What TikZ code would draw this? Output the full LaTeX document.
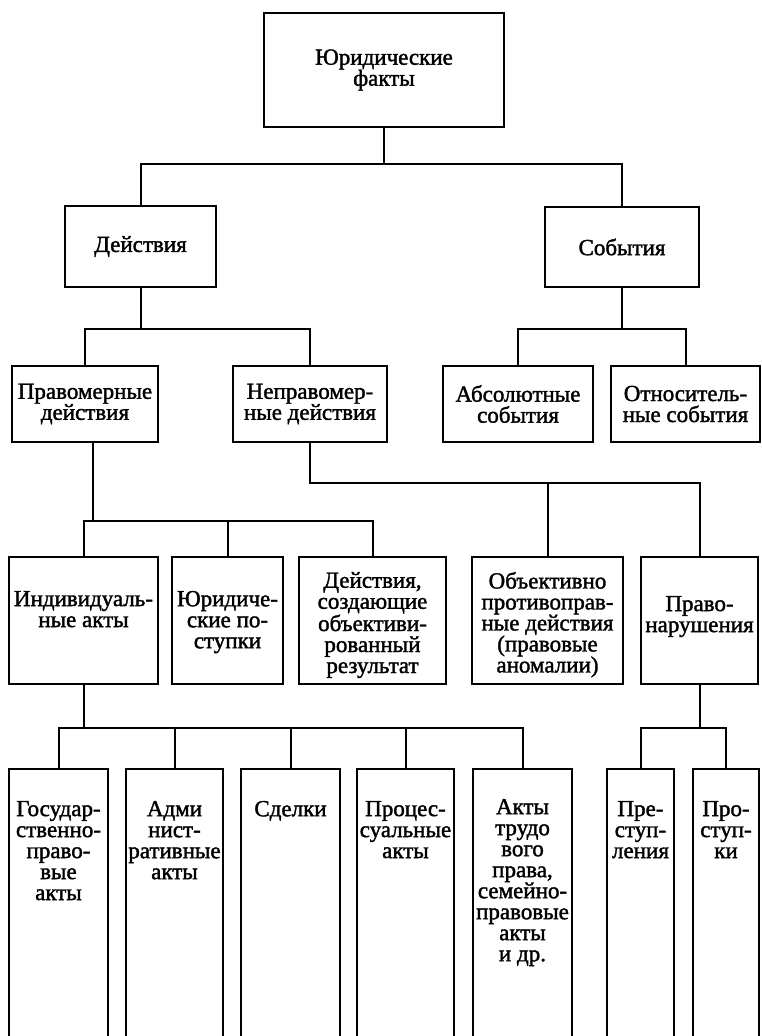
\documentclass[tikz,border=0pt]{standalone}
\usepackage{fontspec}
\setmainfont{Liberation Serif}
\newfontface\heavyserif{Liberation Serif}[FakeBold=1.6]
\usepackage{tikz}
\usetikzlibrary{positioning}

\newcommand{\boxfont}{\heavyserif\fontsize{23}{21}\selectfont}

\begin{document}
\begin{tikzpicture}[
x=1pt, y=-1pt,
box/.style={draw, line width=2.4pt, inner sep=0pt, font=\boxfont, align=center},
txt/.style={inner sep=0pt, font=\boxfont, align=center},
link/.style={line width=2pt} ]

\useasboundingbox (0,0) rectangle (761,1036);

% levels of the horizontal bars
\coordinate (lev1) at (0,164);
\coordinate (lev2) at (0,329);
\coordinate (lev3) at (0,483);
\coordinate (lev4) at (0,521);
\coordinate (lev5) at (0,728);

\node[box, minimum width=240pt, minimum height=114pt] (jurfakt) at (384,70) {Юридические\\факты};

\node[box, minimum width=151pt, minimum height=81pt] (dej) at (140.5,246.5) {Действия};

\node[box, minimum width=154pt, minimum height=80pt] (sob) at (622,247) {События};

\node[box, minimum width=146pt, minimum height=76pt] (prav) at (85,404) {Правомерные\\действия};

\node[box, minimum width=154pt, minimum height=76pt] (neprav) at (310,404) {Неправомер-\\ные действия};

\node[box, minimum width=150pt, minimum height=76pt] (abs) at (518,404) {Абсолютные\\события};

\node[box, minimum width=149pt, minimum height=76pt] (otn) at (685.5,404) {Относитель-\\ные события};

% third row
\node[box, minimum width=149pt, minimum height=127pt] (indiv) at (83.5,620.5) {};
\node[txt, below=35pt of indiv.north] (indiv-t) {Индивидуаль-\\ные акты};

\node[box, minimum width=111pt, minimum height=127pt] (jurpost) at (227.5,620.5) {};
\node[txt, below=35pt of jurpost.north] (jurpost-t) {Юридиче-\\ские по-\\ступки};

\node[box, minimum width=147pt, minimum height=127pt] (dejrez) at (372.5,620.5) {};
\node[txt, below=16pt of dejrez.north] (dejrez-t) {Действия,\\создающие\\объективи-\\рованный\\результат};

\node[box, minimum width=151pt, minimum height=127pt] (objekt) at (547.5,620.5) {};
\node[txt, below=16pt of objekt.north] (objekt-t) {Объективно\\противоправ-\\ные действия\\(правовые\\аномалии)};

\node[box, minimum width=117pt, minimum height=127pt] (pravonar) at (699.5,620.5) {};
\node[txt, below=40pt of pravonar.north] (pravonar-t) {Право-\\нарушения};

% fourth row, cut by the lower edge
\node[box, minimum width=99pt, minimum height=277pt] (gos) at (58.5,907.5) {};
\node[txt, below=33pt of gos.north] (gos-t) {Государ-\\ственно-\\право-\\вые\\акты};

\node[box, minimum width=97pt, minimum height=277pt] (adm) at (174.5,907.5) {};
\node[txt, below=33pt of adm.north] (adm-t) {Адми\\нист-\\ративные\\акты};

\node[box, minimum width=99pt, minimum height=277pt] (sdel) at (290.5,907.5) {};
\node[txt, below=33pt of sdel.north] (sdel-t) {Сделки};

\node[box, minimum width=97pt, minimum height=277pt] (proc) at (405.5,907.5) {};
\node[txt, below=33pt of proc.north] (proc-t) {Процес-\\суальные\\акты};

\node[box, minimum width=99pt, minimum height=277pt] (akty) at (522.5,907.5) {};
\node[txt, below=31pt of akty.north] (akty-t) {Акты\\трудо\\вого\\права,\\семейно-\\правовые\\акты\\и др.};

\node[box, minimum width=67pt, minimum height=277pt] (prest) at (640.5,907.5) {};
\node[txt, below=33pt of prest.north] (prest-t) {Пре-\\ступ-\\ления};

\node[box, minimum width=66pt, minimum height=277pt] (prost) at (726,907.5) {};
\node[txt, below=33pt of prost.north] (prost-t) {Про-\\ступ-\\ки};

% connectors
\draw[link] (jurfakt.south) -- (jurfakt.south |- lev1);
\draw[link] (dej.north) |- (sob.north |- lev1) -- (sob.north);

\draw[link] (dej.south) -- (dej.south |- lev2);
\draw[link] (prav.north) |- (neprav.north |- lev2) -- (neprav.north);
\draw[link] (sob.south) -- (sob.south |- lev2);
\draw[link] (abs.north) |- (otn.north |- lev2) -- (otn.north);

\draw[link] (neprav.south) |- (pravonar.north |- lev3) -- (pravonar.north);
\draw[link] (objekt.north) -- (objekt.north |- lev3);

\coordinate (prav-s) at ([xshift=8pt]prav.south);
\draw[link] (prav-s) -- (prav-s |- lev4);
\draw[link] (indiv.north) |- (dejrez.north |- lev4) -- (dejrez.north);
\draw[link] (jurpost.north) -- (jurpost.north |- lev4);

\draw[link] (indiv.south) -- (indiv.south |- lev5);
\draw[link] (gos.north) |- (akty.north |- lev5) -- (akty.north);
\foreach \n in {adm,sdel,proc}
  \draw[link] (\n.north) -- (\n.north |- lev5);

\draw[link] (pravonar.south) -- (pravonar.south |- lev5);
\draw[link] (prest.north) |- (prost.north |- lev5) -- (prost.north);

\end{tikzpicture}
\end{document}
